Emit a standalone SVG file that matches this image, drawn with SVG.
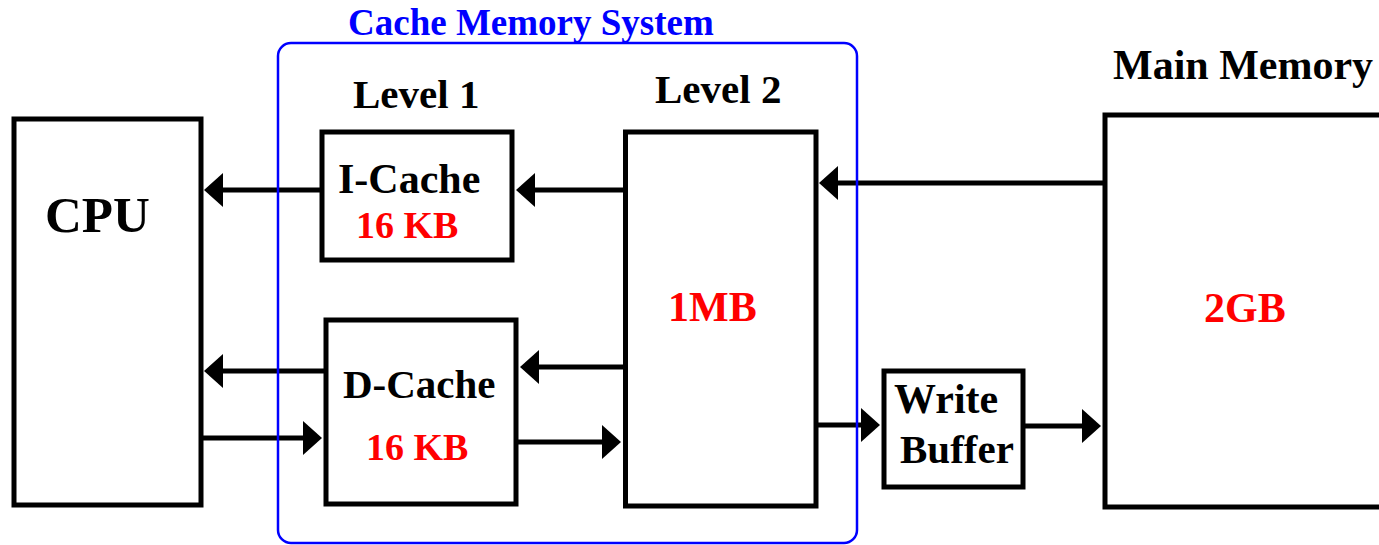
<svg xmlns="http://www.w3.org/2000/svg" width="1379" height="545" viewBox="0 0 1379 545">
  <style>
    .box { fill: #ffffff; stroke: #000000; stroke-width: 5; }
    .lbl { font-family: "Liberation Serif", "Times New Roman", serif; font-weight: bold; fill: #000000; }
    .red { font-family: "Liberation Serif", "Times New Roman", serif; font-weight: bold; fill: #ff0000; }
    .conn { fill: none; stroke: #000000; stroke-width: 5; marker-end: url(#ah); }
    .sys { fill: none; stroke: #0000ff; stroke-width: 2.5; }
  </style>
  <defs>
    <marker id="ah" viewBox="0 0 19 34" refX="1" refY="17" markerWidth="19" markerHeight="34" markerUnits="userSpaceOnUse" orient="auto">
      <path d="M0,0 L19,17 L0,34 Z" fill="#000000"/>
    </marker>
  </defs>
  <rect width="1379" height="545" fill="#ffffff"/>

  <g id="cpu">
    <rect class="box" x="14" y="119" width="187" height="386"/>
    <text class="lbl" x="45" y="232" font-size="51">CPU</text>
  </g>

  <g id="level1-label">
    <text class="lbl" x="353" y="108" font-size="41">Level 1</text>
  </g>

  <g id="icache">
    <rect class="box" x="322" y="132" width="190" height="128"/>
    <text class="lbl" x="338" y="193" font-size="42">I-Cache</text>
    <text class="red" x="356" y="238" font-size="38">16 KB</text>
  </g>

  <g id="dcache">
    <rect class="box" x="326" y="320" width="190" height="184"/>
    <text class="lbl" x="343" y="398" font-size="41">D-Cache</text>
    <text class="red" x="366" y="460" font-size="38">16 KB</text>
  </g>

  <g id="level2">
    <text class="lbl" x="655" y="103" font-size="41">Level 2</text>
    <rect class="box" x="625.5" y="132" width="190.5" height="374"/>
    <text class="red" x="668" y="321" font-size="42">1MB</text>
  </g>

  <g id="write-buffer">
    <rect class="box" x="884" y="371" width="139" height="116"/>
    <text class="lbl" x="894" y="413" font-size="42">Write</text>
    <text class="lbl" x="900" y="463" font-size="41">Buffer</text>
  </g>

  <g id="main-memory">
    <text class="lbl" x="1113" y="79" font-size="42">Main Memory</text>
    <rect class="box" x="1105" y="115" width="300" height="392"/>
    <text class="red" x="1204" y="322" font-size="42">2GB</text>
  </g>

  <g id="connectors">
    <path class="conn" d="M322,190 L222,190"/>
    <path class="conn" d="M625,190 L534,190"/>
    <path class="conn" d="M1105,183 L837,183"/>
    <path class="conn" d="M625,367 L538,367"/>
    <path class="conn" d="M326,371 L222,371"/>
    <path class="conn" d="M201,438 L304,438"/>
    <path class="conn" d="M516,442 L603,442"/>
    <path class="conn" d="M816,425 L862,425"/>
    <path class="conn" d="M1023,426 L1083,426"/>
  </g>

  <g id="cache-memory-system">
    <rect class="sys" x="278" y="43" width="579" height="500" rx="13" ry="13"/>
    <text x="348" y="35" font-size="37" font-family="'Liberation Serif', 'Times New Roman', serif" font-weight="bold" fill="#0000ff">Cache Memory System</text>
  </g>
</svg>
